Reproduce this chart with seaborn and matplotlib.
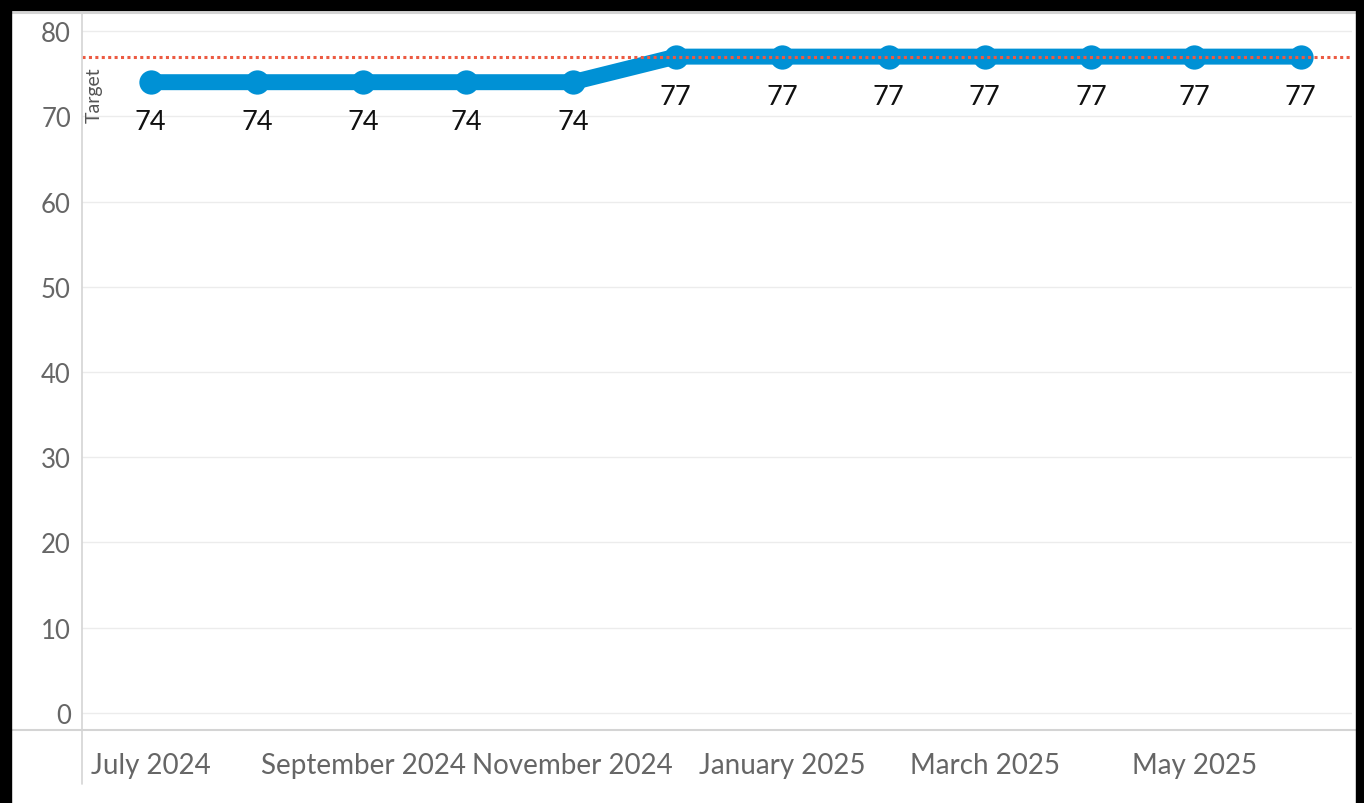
import matplotlib
matplotlib.use("Agg")
import matplotlib.pyplot as plt
import matplotlib.dates as mdates
from matplotlib.lines import Line2D
from matplotlib.patches import Rectangle
import pandas as pd
import seaborn as sns

# Monthly score series and the target level
months = ["2024-07", "2024-08", "2024-09", "2024-10", "2024-11", "2024-12",
          "2025-01", "2025-02", "2025-03", "2025-04", "2025-05", "2025-06"]
scores = [74, 74, 74, 74, 74, 77, 77, 77, 77, 77, 77, 77]
target = 77
y_ticks = [0, 10, 20, 30, 40, 50, 60, 70, 80]

df = pd.DataFrame({"month": pd.to_datetime(months), "score": scores})

sns.set_theme(style="white")
plt.rcParams["font.family"] = ["Lato", "DejaVu Sans"]

W, H = 1364, 804
fig = plt.figure(figsize=(W / 100, H / 100), dpi=100)
fig.patch.set_facecolor("white")

left, right, bottom, top = 82, 1352, 731, 15
ax = fig.add_axes([left / W, 1 - bottom / H, (right - left) / W, (bottom - top) / H])

line_color = "#0091D5"
sns.lineplot(data=df, x="month", y="score", ax=ax, color=line_color,
             linewidth=11.5, marker="o", markersize=17.5, markeredgewidth=0,
             solid_capstyle="round", solid_joinstyle="round", zorder=3)

# Target reference line
ax.axhline(target, color="#EC5A42", linewidth=2.2, linestyle=(0, (1, 1.1)), zorder=4)
ax.annotate("Target", xy=(0, target), xycoords=ax.get_yaxis_transform(),
            xytext=(3, -7), textcoords="offset points", rotation=90,
            ha="left", va="top", fontsize=14, color="#555555")

# Value labels under each point
for m, v in zip(df["month"], df["score"]):
    ax.annotate(f"{v}", xy=(m, v), xytext=(0, -28.5), textcoords="offset points",
                ha="center", va="center", fontsize=19.5, color="#111111", zorder=5)

ax.set_ylim(-2, 82)
ax.set_xlim(pd.Timestamp("2024-06-11"), pd.Timestamp("2025-06-16"))
ax.set_yticks(y_ticks)
ax.set_yticklabels([str(t) for t in y_ticks])
ax.yaxis.grid(True, color="#ECECEC", linewidth=1)
ax.xaxis.grid(False)

ax.xaxis.set_major_locator(mdates.MonthLocator(bymonth=[1, 3, 5, 7, 9, 11]))
ax.xaxis.set_major_formatter(mdates.DateFormatter("%B %Y"))
ax.xaxis.set_minor_locator(mdates.MonthLocator())
ax.tick_params(axis="x", which="both", length=6, width=0.8, color="#DDDDDD",
               direction="out", pad=10, labelsize=20, labelcolor="#666666")
ax.tick_params(axis="y", length=0, pad=8, labelsize=18.5, labelcolor="#666666")
ax.set_xlabel("")
ax.set_ylabel("")

for s in ax.spines.values():
    s.set_visible(False)

# Axis rules extending past the plotting area
axis_color = "#D4D4D4"
fig.add_artist(Line2D([left / W, left / W], [1 - 785 / H, 1 - top / H],
                      color=axis_color, linewidth=1.2))
fig.add_artist(Line2D([12 / W, 1356 / W], [1 - bottom / H, 1 - bottom / H],
                      color=axis_color, linewidth=1.5))
fig.add_artist(Line2D([12 / W, 1356 / W], [1 - 14 / H, 1 - 14 / H],
                      color=axis_color, linewidth=1.5))

# Black frame around the card
for x0, y0, w, h in [(0, 0, 11, H), (1356, 0, W - 1356, H), (0, 0, W, 11)]:
    fig.add_artist(Rectangle((x0 / W, 1 - (y0 + h) / H), w / W, h / H,
                             transform=fig.transFigure, color="black", zorder=10))

fig.savefig("out.png", dpi=100)
